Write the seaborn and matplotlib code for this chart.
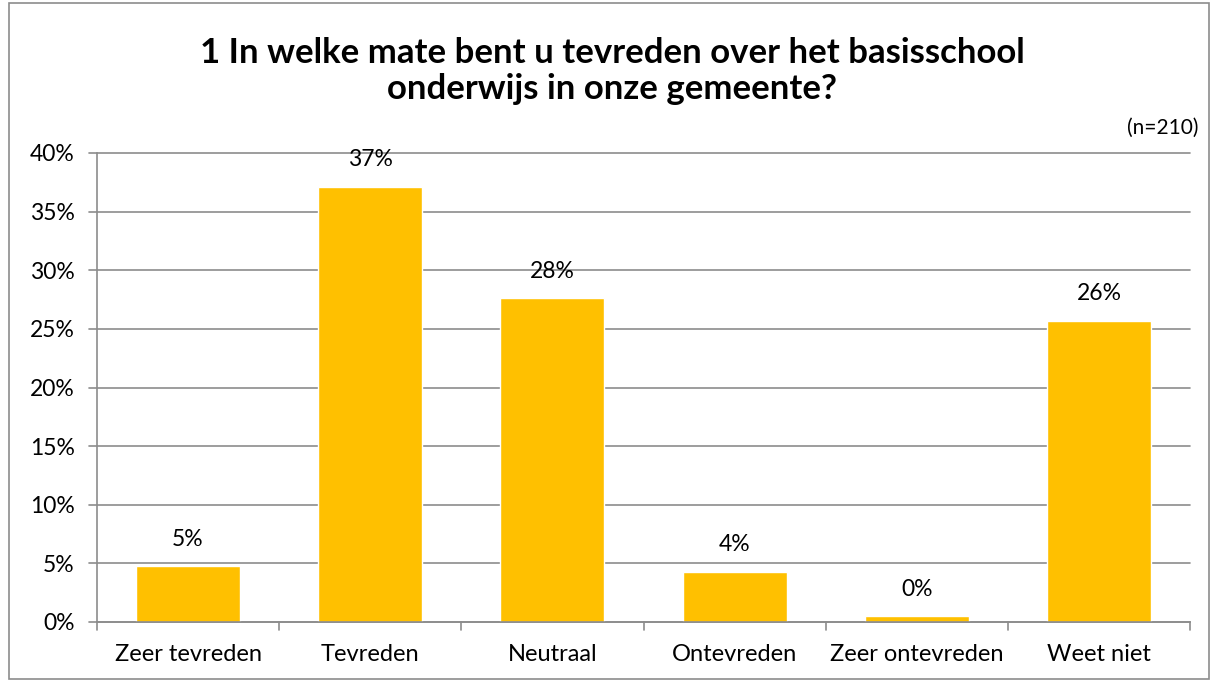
import matplotlib
matplotlib.use("Agg")
import matplotlib.pyplot as plt
import seaborn as sns
import pandas as pd
from matplotlib.patches import Rectangle

categories = ["Zeer tevreden", "Tevreden", "Neutraal", "Ontevreden", "Zeer ontevreden", "Weet niet"]
values = [4.76, 37.14, 27.62, 4.29, 0.48, 25.71]
yticks = [0, 5, 10, 15, 20, 25, 30, 35, 40]
title_lines = ["1 In welke mate bent u tevreden over het basisschool", "onderwijs in onze gemeente?"]
note = "(n=210)"

sns.set_theme(style="white")
plt.rcParams['font.family'] = ['Lato', 'DejaVu Sans']
plt.rcParams['text.color'] = 'black'

df = pd.DataFrame({"cat": categories, "val": values})

fig = plt.figure(figsize=(12.14, 6.81), dpi=100)
ax = fig.add_axes([97/1214, 1-622/681, (1190-97)/1214, (622-153)/681])

sns.barplot(data=df, x="cat", y="val", color="#FFC000", saturation=1, width=0.57, ax=ax)

ax.set_ylim(0, 40)
ax.set_xlim(-0.5, len(categories) - 0.5)
ax.set_yticks(yticks)
ax.set_yticklabels([f"{t}%" for t in yticks], fontsize=16.5, color="black")
ax.set_xlabel("")
ax.set_ylabel("")
ax.tick_params(axis="x", length=0, labelsize=17, labelcolor="black", pad=16)
ax.tick_params(axis="y", length=0, pad=16)
for t in yticks:
    ax.axhline(t, color="#8c8c8c", lw=1.2, zorder=0, xmin=-8/1093, clip_on=False)
# category boundary ticks
for i in range(len(categories) + 1):
    ax.plot([i - 0.5, i - 0.5], [0, -0.7], color="#8c8c8c", lw=1.2, clip_on=False)

for s in ["top", "right"]:
    ax.spines[s].set_visible(False)
ax.spines["left"].set_color("#8c8c8c")
ax.spines["left"].set_linewidth(1.2)
ax.spines["bottom"].set_color("#8c8c8c")
ax.spines["bottom"].set_linewidth(1.2)

for i, v in enumerate(values):
    ax.text(i, v + 1.4, f"{round(v)}%", ha="center", va="bottom", fontsize=16.5, color="black")

fig.text(612/1214, 1-63/681, title_lines[0], ha="center", va="baseline", fontsize=25,
         fontweight="bold", color="black")
fig.text(612/1214, 1-99/681, title_lines[1], ha="center", va="baseline", fontsize=25,
         fontweight="bold", color="black")
fig.text(1198/1214, 1-128/681, note, ha="right", va="center", fontsize=15, color="black")

fig.add_artist(Rectangle((9/1214, 2/681), 1200/1214, 676/681, transform=fig.transFigure,
                         fill=False, edgecolor="#8c8c8c", lw=1.2))

fig.savefig("out.png", dpi=100)
